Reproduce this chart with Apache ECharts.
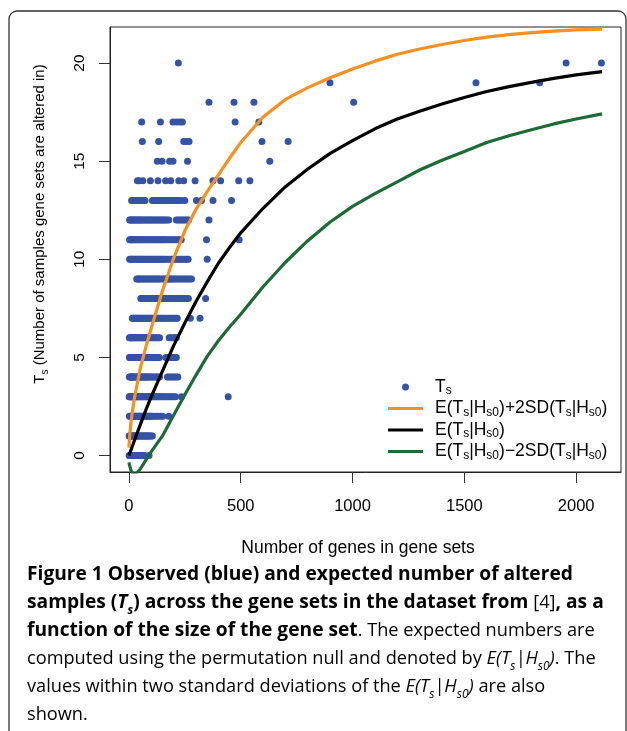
<!DOCTYPE html>
<html><head><meta charset="utf-8">
<script src="https://cdn.jsdelivr.net/npm/echarts@6/dist/echarts.min.js"></script>
<style>html,body{margin:0;padding:0;background:#fff}#c{width:627px;height:731px}</style>
</head><body><div id="c"></div>
<script>
// ---- tick labels ----
const xTicks = [0, 500, 1000, 1500, 2000];
const yTicks = [0, 5, 10, 15, 20];

// ---- observed: gene-set sizes for each observed T_s value ----
const sizesT0 = [1,3,5,7,9,11,13,15,17,19,21,24,27,30,33,36,39,42,45,48,51,54,57,60,63,66,70,90];
const sizesT1 = [1,3,5,7,10,13,16,19,22,25,28,31,34,37,40,43,46,50,54,58,62,66,70,74,78,82,86,90,95,100,105];
const sizesT2 = [2,5,8,11,14,17,20,24,28,32,36,40,44,48,52,56,60,64,68,72,76,80,85,90,95,100,106,118,128,140,151,178];
const sizesT3 = [1,4,7,10,13,16,19,22,26,30,34,38,42,46,50,54,58,62,66,70,75,80,85,90,95,100,106,112,118,124,130,136,142,148,155,162,169,176,184,192,200,208,235,444];
const sizesT4 = [2,5,8,11,14,17,20,24,28,32,36,40,44,48,52,56,60,64,68,72,76,80,85,90,95,100,106,112,118,124,131,137,172,180,188,196,204,212,219];
const sizesT5 = [2,5,8,11,14,17,20,24,28,32,36,40,44,48,52,56,60,64,68,72,76,80,85,90,95,100,106,112,118,124,130,136,165,172,180,188,196,204,212];
const sizesT6 = [2,5,8,11,14,17,20,24,28,32,36,40,44,48,52,56,60,64,68,72,76,80,85,90,95,100,106,112,118,124,131,137,180,186,193,200,206,212];
const sizesT7 = [15,18,22,26,30,34,38,42,46,50,55,60,65,70,75,80,85,90,95,100,106,112,118,124,130,136,142,148,155,162,170,178,186,194,202,210,216,275,318];
const sizesT8 = [53,58,63,68,73,78,84,90,96,102,108,114,120,126,132,138,144,150,156,162,170,178,186,194,202,210,218,226,234,242,250,258,266,343];
const sizesT9 = [35,40,45,50,56,62,68,74,80,86,92,98,104,110,116,122,128,134,140,152,158,164,170,176,182,188,194,200,208,216,224,232,240,248,256,264,272,280];
const sizesT10 = [3,7,11,15,20,25,30,35,40,45,50,55,60,66,72,78,84,90,96,102,108,114,120,126,132,138,144,150,156,162,170,178,186,194,202,210,218,226,234,242,250,258,265,350];
const sizesT11 = [3,7,11,15,20,25,30,35,40,45,50,55,60,66,72,78,84,90,96,102,108,114,120,126,132,138,144,150,156,162,170,178,186,194,202,210,218,226,234,347,493];
const sizesT12 = [3,7,11,15,20,25,30,35,40,45,50,55,60,66,72,78,84,90,96,102,108,114,120,126,132,138,144,150,156,162,170,178,212,220,228,236,244,252,260,267,358];
const sizesT13 = [12,18,26,34,42,50,58,66,72,105,110,118,126,132,140,148,155,165,175,182,192,202,212,222,235,250,302,324,376,459];
const sizesT14 = [38,46,62,96,130,164,187,223,245,296,376,410,491,541];
const sizesT15 = [127,148,182,197,262,630];
const sizesT16 = [60,133,245,257,269,595,712];
const sizesT17 = [57,141,197,212,227,239,475,581];
const sizesT18 = [358,470,559,1005];
const sizesT19 = [899,1552,1837];
const sizesT20 = [221,1955,2113];
const observedRows = [sizesT0,sizesT1,sizesT2,sizesT3,sizesT4,sizesT5,sizesT6,sizesT7,sizesT8,sizesT9,sizesT10,
  sizesT11,sizesT12,sizesT13,sizesT14,sizesT15,sizesT16,sizesT17,sizesT18,sizesT19,sizesT20];

// ---- expected curves ----
const curveSizes = [0,3,10,25,50,75,100,150,200,250,300,350,400,450,500,600,700,800,900,1000,1100,1200,1300,1400,1500,1600,1700,1800,1900,2000,2116];
const upperY = [0.4,0.95,1.8,2.95,4.4,5.5,6.5,8.4,10.05,11.45,12.55,13.45,14.3,15.15,15.95,17.25,18.15,18.75,19.25,19.7,20.1,20.45,20.72,20.95,21.15,21.32,21.45,21.55,21.63,21.69,21.73];
const meanY  = [0,0.1,0.31,0.78,1.55,2.3,3.0,4.3,5.6,6.75,7.85,8.85,9.8,10.6,11.35,12.6,13.7,14.6,15.4,16.05,16.65,17.15,17.55,17.92,18.25,18.55,18.8,19.02,19.22,19.4,19.57];
const lowerY = [-0.35,-0.5,-0.78,-1.02,-0.7,-0.25,0.2,1.0,2.05,3.1,4.1,5.05,5.85,6.55,7.2,8.6,9.85,10.95,11.9,12.7,13.35,13.95,14.55,15.05,15.5,15.95,16.3,16.6,16.9,17.15,17.41];

const observedPoints = [];
observedRows.forEach((row, t) => row.forEach(x => observedPoints.push([x, t])));
const pairs = ys => curveSizes.map((x, i) => [x, ys[i]]);

const FONT = '"Liberation Sans", Arial, sans-serif';
const CAP = '"Open Sans", "Noto Sans", sans-serif';
const SUB = {fontSize: 12, lineHeight: 15, verticalAlign: 'bottom', fontFamily: FONT, color: '#000'};
const LINE_ICON = 'path://M0,0L0.001,0L0.001,0.001ZM0,1.9L35,1.9L35,5.1L0,5.1ZM0,6.999L0.001,7L0,7Z';

const legendText = {
  'Ts': 'T{s|s}',
  'upper': 'E(T{s|s}|H{s|s0})+2SD(T{s|s}|H{s|s0})',
  'mean': 'E(T{s|s}|H{s|s0})',
  'lower': 'E(T{s|s}|H{s|s0})\u22122SD(T{s|s}|H{s|s0})'
};

const chart = echarts.init(document.getElementById('c'), null, {renderer: 'canvas'});
const capB = {fontFamily: CAP, fontWeight: 'bold', fontSize: 19.2, lineHeight: 28, color: '#231f20'};
const capN = {fontFamily: CAP, fontWeight: 'normal', fontSize: 18.2, lineHeight: 28, color: '#58595b'};
const option = {
  animation: false,
  backgroundColor: '#fff',
  grid: {left: 110, top: 27, right: 6, bottom: 259, show: true, borderColor: '#222', borderWidth: 1, backgroundColor: 'transparent'},
  xAxis: {
    type: 'value', min: -84.6, max: 2200.6,
    splitLine: {show: false}, axisLine: {show: true, onZero: false, lineStyle: {color: '#222', width: 1}},
    axisTick: {show: true, inside: false, length: 11, lineStyle: {color: '#333', width: 1}, customValues: xTicks},
    axisLabel: {customValues: xTicks, margin: 26, formatter: v => String(v), fontFamily: FONT, fontSize: 16.5, color: '#000'}
  },
  yAxis: {
    type: 'value', min: -0.84, max: 21.84,
    splitLine: {show: false}, axisLine: {show: true, onZero: false, lineStyle: {color: '#222', width: 1}},
    axisTick: {show: true, inside: false, length: 11, lineStyle: {color: '#333', width: 1}, customValues: yTicks},
    axisLabel: {customValues: yTicks, rotate: 90, margin: 22, formatter: v => String(v), fontFamily: FONT, fontSize: 15.5, color: '#000'}
  },
  legend: {
    orient: 'vertical', left: 388, top: 377, itemWidth: 35, itemHeight: 7, itemGap: 1.5,
    padding: 0,
    data: [{name: 'Ts', icon: 'circle'}, {name: 'upper', icon: LINE_ICON}, {name: 'mean', icon: LINE_ICON}, {name: 'lower', icon: LINE_ICON}],
    formatter: n => legendText[n],
    textStyle: {fontFamily: FONT, fontSize: 17.5, lineHeight: 20, color: '#000', padding: [0, 0, 0, 7], rich: {s: SUB}}
  },
  series: [
    {name: 'Ts', type: 'scatter', data: observedPoints, symbolSize: 7, itemStyle: {color: '#3553a5', opacity: 1}},
    {name: 'upper', type: 'line', data: pairs(upperY), showSymbol: false, symbol: 'none', smooth: false, lineStyle: {color: '#f7901e', width: 3.2}, itemStyle: {color: '#f7901e'}},
    {name: 'mean', type: 'line', data: pairs(meanY), showSymbol: false, symbol: 'none', smooth: false, lineStyle: {color: '#000', width: 3.2}, itemStyle: {color: '#000'}},
    {name: 'lower', type: 'line', data: pairs(lowerY), showSymbol: false, symbol: 'none', smooth: false, lineStyle: {color: '#1b6b34', width: 3.2}, itemStyle: {color: '#1b6b34'}}
  ],
  graphic: [
    {type: 'rect', shape: {x: 9, y: 11, width: 617, height: 760, r: 8}, style: {fill: 'none', stroke: '#333', lineWidth: 1.3}, silent: true},
    {type: 'text', x: 358, y: 548, style: {text: 'Number of genes in gene sets', textAlign: 'center', textVerticalAlign: 'middle', fontFamily: FONT, fontSize: 17.5, fill: '#000'}},
    {type: 'text', x: 40, y: 224, rotation: Math.PI / 2, style: {
      text: 'T{s|s} (Number of samples gene sets are altered in)', textAlign: 'center', textVerticalAlign: 'middle',
      fontFamily: FONT, fontSize: 15, lineHeight: 20, fill: '#000', rich: {s: {fontSize: 10, lineHeight: 14, verticalAlign: 'bottom', fontFamily: FONT, fill: '#000'}}}},
    {type: 'text', x: 27, y: 561, style: {
      text: '{b|Figure 1 Observed (blue) and expected number of altered}\n' +
            '{b|samples (}{bi|T}{bis|s}{b|) across the gene sets in the dataset from }{n|[4]}{b|, as a}\n' +
            '{b|function of the size of the gene set}{n|. The expected numbers are}\n' +
            '{n|computed using the permutation null and denoted by }{i|E(T}{is|s}{i||H}{is|s0}{i|)}{n|. The}\n' +
            '{n|values within two standard deviations of the }{i|E(T}{is|s}{i||H}{is|s0}{i|)}{n| are also}\n' +
            '{n|shown.}',
      textAlign: 'left', textVerticalAlign: 'top',
      rich: {
        b: capB, n: capN,
        bi: Object.assign({}, capB, {fontStyle: 'italic'}),
        bis: Object.assign({}, capB, {fontStyle: 'italic', fontSize: 12, lineHeight: 20, verticalAlign: 'bottom'}),
        i: Object.assign({}, capN, {fontStyle: 'italic'}),
        is: Object.assign({}, capN, {fontStyle: 'italic', fontSize: 12, lineHeight: 20, verticalAlign: 'bottom'})
      }
    }}
  ]
};
chart.setOption(option);
</script>
</body></html>
